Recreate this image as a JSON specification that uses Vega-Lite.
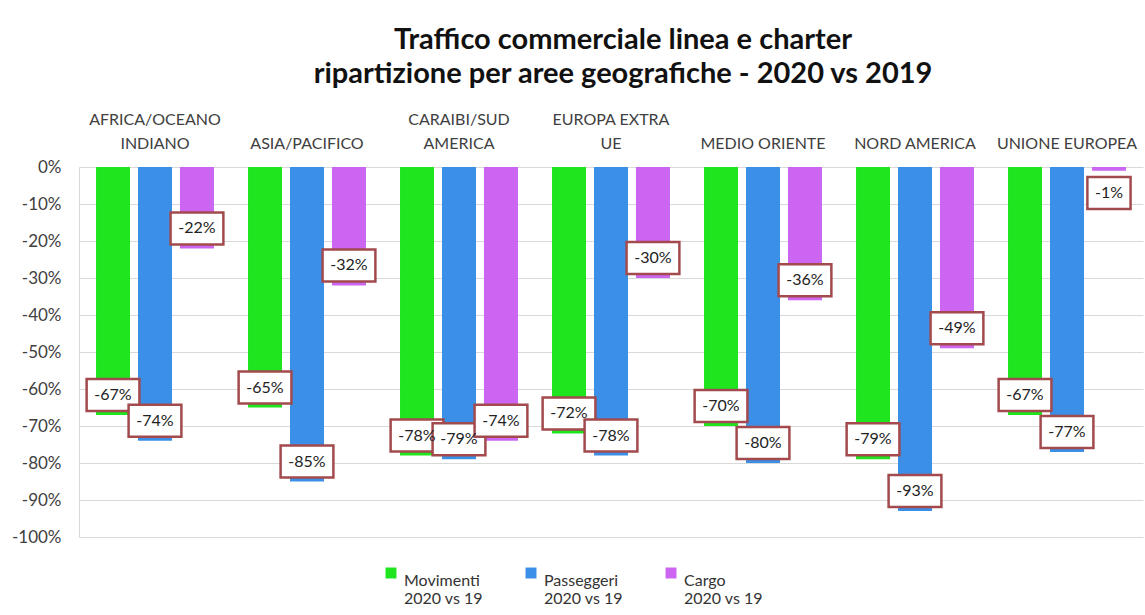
{
  "$schema": "https://vega.github.io/schema/vega-lite/v6.json",
  "width": 1064,
  "height": 370,
  "autosize": "none",
  "padding": {"left": 79, "top": 167, "right": 2, "bottom": 78},
  "background": "white",
  "title": {
    "text": ["Traffico commerciale linea e charter", "ripartizione per aree geografiche - 2020 vs 2019"],
    "font": "Lato",
    "fontSize": 29,
    "fontWeight": "bold",
    "color": "#111111",
    "lineHeight": 34,
    "anchor": "middle",
    "frame": "group",
    "dx": 12,
    "offset": 22
  },
  "data": {
    "values": [
      {"area": "AFRICA/OCEANO INDIANO", "serie": "Movimenti 2020 vs 19", "value": -0.67},
      {"area": "AFRICA/OCEANO INDIANO", "serie": "Passeggeri 2020 vs 19", "value": -0.74},
      {"area": "AFRICA/OCEANO INDIANO", "serie": "Cargo 2020 vs 19", "value": -0.22},
      {"area": "ASIA/PACIFICO", "serie": "Movimenti 2020 vs 19", "value": -0.65},
      {"area": "ASIA/PACIFICO", "serie": "Passeggeri 2020 vs 19", "value": -0.85},
      {"area": "ASIA/PACIFICO", "serie": "Cargo 2020 vs 19", "value": -0.32},
      {"area": "CARAIBI/SUD AMERICA", "serie": "Movimenti 2020 vs 19", "value": -0.78},
      {"area": "CARAIBI/SUD AMERICA", "serie": "Passeggeri 2020 vs 19", "value": -0.79},
      {"area": "CARAIBI/SUD AMERICA", "serie": "Cargo 2020 vs 19", "value": -0.74},
      {"area": "EUROPA EXTRA UE", "serie": "Movimenti 2020 vs 19", "value": -0.72},
      {"area": "EUROPA EXTRA UE", "serie": "Passeggeri 2020 vs 19", "value": -0.78},
      {"area": "EUROPA EXTRA UE", "serie": "Cargo 2020 vs 19", "value": -0.30},
      {"area": "MEDIO ORIENTE", "serie": "Movimenti 2020 vs 19", "value": -0.70},
      {"area": "MEDIO ORIENTE", "serie": "Passeggeri 2020 vs 19", "value": -0.80},
      {"area": "MEDIO ORIENTE", "serie": "Cargo 2020 vs 19", "value": -0.36},
      {"area": "NORD AMERICA", "serie": "Movimenti 2020 vs 19", "value": -0.79},
      {"area": "NORD AMERICA", "serie": "Passeggeri 2020 vs 19", "value": -0.93},
      {"area": "NORD AMERICA", "serie": "Cargo 2020 vs 19", "value": -0.49},
      {"area": "UNIONE EUROPEA", "serie": "Movimenti 2020 vs 19", "value": -0.67},
      {"area": "UNIONE EUROPEA", "serie": "Passeggeri 2020 vs 19", "value": -0.77},
      {"area": "UNIONE EUROPEA", "serie": "Cargo 2020 vs 19", "value": -0.01}
    ]
  },
  "encoding": {
    "x": {
      "field": "area",
      "type": "nominal",
      "sort": null,
      "scale": {"paddingInner": 0.224, "paddingOuter": 0.112},
      "axis": {
        "orient": "top",
        "title": null,
        "ticks": false,
        "tickSize": 0,
        "domain": false,
        "labelAngle": 0,
        "labelPadding": 40,
        "labelFont": "Lato",
        "labelFontSize": 16,
        "labelColor": "#404040",
        "labelLineHeight": 24,
        "labelLimit": 300,
        "labelOverlap": false,
        "labelExpr": "datum.value == 'AFRICA/OCEANO INDIANO' ? ['AFRICA/OCEANO', 'INDIANO'] : datum.value == 'CARAIBI/SUD AMERICA' ? ['CARAIBI/SUD', 'AMERICA'] : datum.value == 'EUROPA EXTRA UE' ? ['EUROPA EXTRA', 'UE'] : ['', datum.value]"
      }
    },
    "xOffset": {
      "field": "serie",
      "type": "nominal",
      "sort": ["Movimenti 2020 vs 19", "Passeggeri 2020 vs 19", "Cargo 2020 vs 19"],
      "scale": {"paddingInner": 0.19, "paddingOuter": 0}
    },
    "y": {
      "field": "value",
      "type": "quantitative",
      "scale": {"domain": [-1, 0], "nice": false, "zero": true},
      "axis": {
        "title": null,
        "format": ".0%",
        "values": [0, -0.1, -0.2, -0.3, -0.4, -0.5, -0.6, -0.7, -0.8, -0.9, -1],
        "labelOverlap": false,
        "ticks": false,
        "tickSize": 0,
        "labelPadding": 18,
        "labelFont": "Lato",
        "labelFontSize": 17,
        "labelColor": "#404040",
        "domain": true,
        "domainColor": "#d9d9d9",
        "grid": true,
        "gridColor": "#d9d9d9",
        "gridWidth": 1.2
      }
    }
  },
  "layer": [
    {
      "mark": {"type": "bar", "stroke": null},
      "encoding": {
        "color": {
          "field": "serie",
          "type": "nominal",
          "sort": ["Movimenti 2020 vs 19", "Passeggeri 2020 vs 19", "Cargo 2020 vs 19"],
          "scale": {
            "domain": ["Movimenti 2020 vs 19", "Passeggeri 2020 vs 19", "Cargo 2020 vs 19"],
            "range": ["#1fe51f", "#3b8fe6", "#cc66f2"]
          },
          "legend": {
            "title": null,
            "orient": "none",
            "direction": "horizontal",
            "legendX": 304,
            "legendY": 398,
            "symbolType": "square",
            "symbolSize": 120,
            "symbolStrokeWidth": 0,
            "labelFont": "Lato",
            "labelFontSize": 16,
            "labelColor": "#333333",
            "labelLineHeight": 22,
            "labelBaseline": "top",
            "labelOffset": 5,
            "columnPadding": 40,
            "labelExpr": "[replace(datum.label, ' 2020 vs 19', ''), '2020 vs 19']"
          }
        }
      }
    },
    {
      "transform": [{"filter": "datum.value < -0.05"}],
      "mark": {
        "type": "point",
        "shape": "M-1.65,-2.25L1.65,-2.25L1.65,-0.25L-1.65,-0.25Z",
        "size": 1024,
        "filled": true,
        "fill": "white",
        "stroke": "#a24a4d",
        "strokeWidth": 2.5,
        "opacity": 1
      }
    },
    {
      "transform": [{"filter": "datum.value < -0.05"}],
      "mark": {"type": "text", "dy": -20, "font": "Lato", "fontSize": 16, "color": "#222222", "baseline": "middle"},
      "encoding": {"text": {"field": "value", "type": "quantitative", "format": ".0%"}}
    },
    {
      "transform": [{"filter": "datum.value >= -0.05"}],
      "mark": {
        "type": "point",
        "shape": "M-1.35,0.4L1.35,0.4L1.35,2.4L-1.35,2.4Z",
        "size": 1024,
        "filled": true,
        "fill": "white",
        "stroke": "#a24a4d",
        "strokeWidth": 2.5,
        "opacity": 1
      }
    },
    {
      "transform": [{"filter": "datum.value >= -0.05"}],
      "mark": {"type": "text", "dy": 22, "font": "Lato", "fontSize": 16, "color": "#222222", "baseline": "middle"},
      "encoding": {"text": {"field": "value", "type": "quantitative", "format": ".0%"}}
    }
  ],
  "config": {
    "view": {"stroke": null},
    "locale": {
      "number": {"decimal": ".", "thousands": ",", "grouping": [3], "currency": ["", ""], "minus": "-"}
    }
  }
}
